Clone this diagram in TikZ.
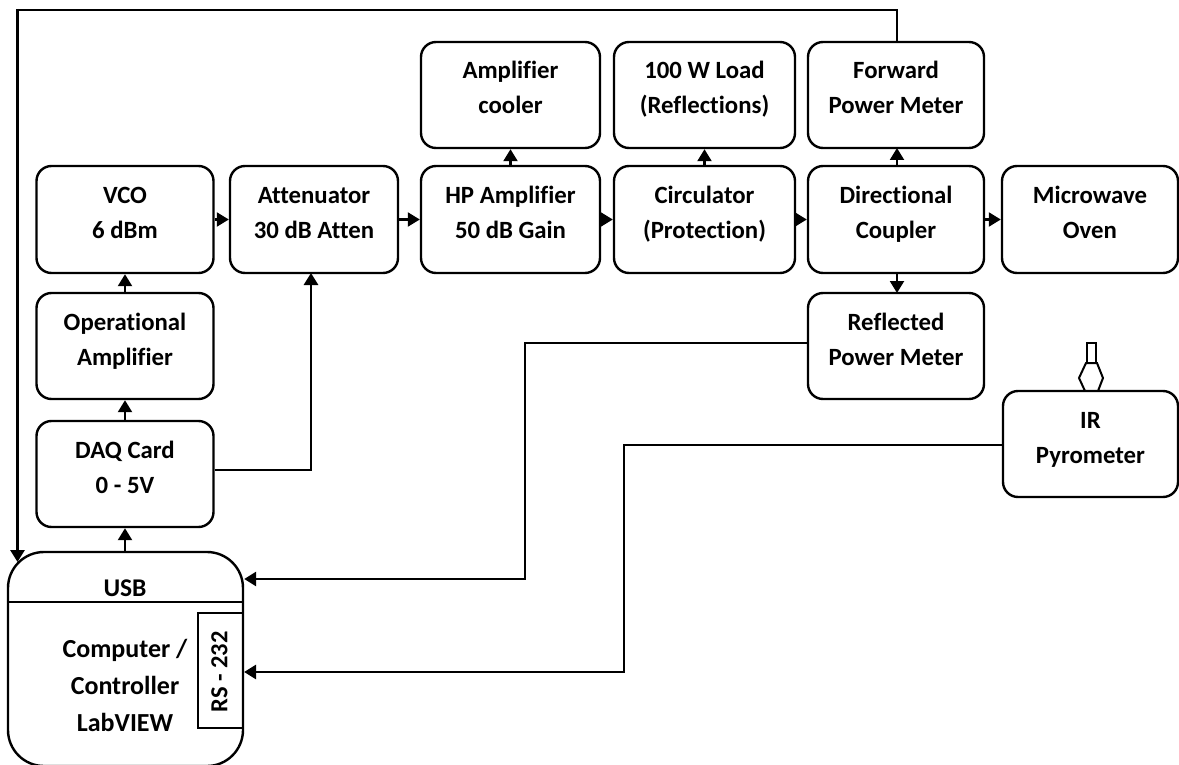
\documentclass[tikz,border=0pt]{standalone}
\usepackage{fontspec}
\setmainfont[Ligatures=NoCommon]{Carlito}
\usetikzlibrary{arrows.meta}
\tikzset{
 blk/.style={draw,line width=2.4pt,rounded corners=15pt,align=center,font=\fontsize{24.8}{35}\selectfont\bfseries,inner sep=0pt},
 conn/.style={line width=2.2pt,-{Triangle[length=12pt,width=14pt]}},
 longconn/.style={line width=2.8pt,-{Triangle[length=12pt,width=14pt]}},
 wire/.style={line width=2pt}
}
\newcommand{\bx}[7]{\node[blk,minimum width=#4pt,minimum height=#5pt] (#1) at (#2,#3) {\rule{0pt}{24pt}#6\\#7\rule[-21pt]{0pt}{21pt}};}
\begin{document}
\begin{tikzpicture}[x=1pt,y=-1pt]
\useasboundingbox (0,0) rectangle (1179,765);
\bx{vco}{125}{219.5}{177}{107}{VCO}{6 dBm}
\bx{att}{314}{219.5}{168}{107}{Attenuator}{30 dB Atten}
\bx{hp}{510.5}{219.5}{179}{107}{HP Amplifier}{50 dB Gain}
\bx{circ}{704.5}{219.5}{181}{107}{Circulator}{(Protection)}
\bx{dc}{896}{219.5}{176}{107}{Directional}{Coupler}
\bx{mw}{1090}{219.5}{176}{107}{Microwave}{Oven}
\bx{cool}{510.5}{95}{179}{106}{Amplifier}{cooler}
\bx{load}{704.5}{95}{181}{106}{100 W Load}{(Reflections)}
\bx{fpm}{896}{95}{176}{106}{Forward}{Power Meter}
\bx{rpm}{896}{346}{176}{106}{Reflected}{Power Meter}
\bx{opamp}{125}{346}{177}{106}{Operational}{Amplifier}
\bx{daq}{125}{474}{177}{106}{DAQ Card}{0 - 5V}
\bx{ir}{1090.5}{444}{175}{106}{IR}{Pyrometer}
\node[draw,line width=2.4pt,rounded corners=36pt,minimum width=235pt,minimum height=214pt,inner sep=0pt] (pc) at (125.5,659) {};
\draw[wire,line width=2.4pt] (pc.west |- 0,602) -- (pc.east |- 0,602);
\node[font=\fontsize{25.5}{28}\selectfont\bfseries] (usb) at (125,588) {USB};
\node[font=\fontsize{26}{37}\selectfont\bfseries,align=center] (cc) at (125,685) {Computer /\\Controller\\LabVIEW};
\node[draw,line width=2.2pt,minimum width=45pt,minimum height=115pt,inner sep=0pt] (rs) at (220.5,670.5) {};
\node[rotate=90,font=\fontsize{24.5}{28}\selectfont\bfseries] (rst) at (219.5,672) {RS - 232};
\coordinate (attin) at (311,273);
\draw[conn] (vco) -- (att);
\draw[conn] (att) -- (hp);
\draw[conn] (hp) -- (circ);
\draw[conn] (circ) -- (dc);
\draw[conn] (dc) -- (mw);
\draw[conn] (hp) -- (cool);
\draw[conn] (circ) -- (load);
\draw[conn] (897,166) -- (897,148);
\draw[conn] (897,273) -- (897,293);
\draw[conn] (opamp) -- (vco);
\draw[conn] (daq) -- (opamp);
\draw[conn] (pc.north -| daq) -- (daq);
\draw[longconn] (daq.east |- 0,470) -| (attin);
\draw[longconn] (rpm.west |- 0,343) -- (525,343) -- (525,579) -- (pc.east |- 0,579);
\draw[longconn] (ir.west |- 0,445) -- (624,445) -- (624,672) -- (rs.east |- 0,672);
\draw[wire] (897,42) -- (897,10) -- (17.5,10);
\draw[longconn] (17.5,9) -- (17.5,562);
\draw[wire] (1085,391) -- (1079,378) -- (1086,363) -- (1097,363) -- (1103,378) -- (1098,391);
\draw[wire] (1087,363) -- (1087,343) -- (1096,343) -- (1096,363);
\end{tikzpicture}
\end{document}
